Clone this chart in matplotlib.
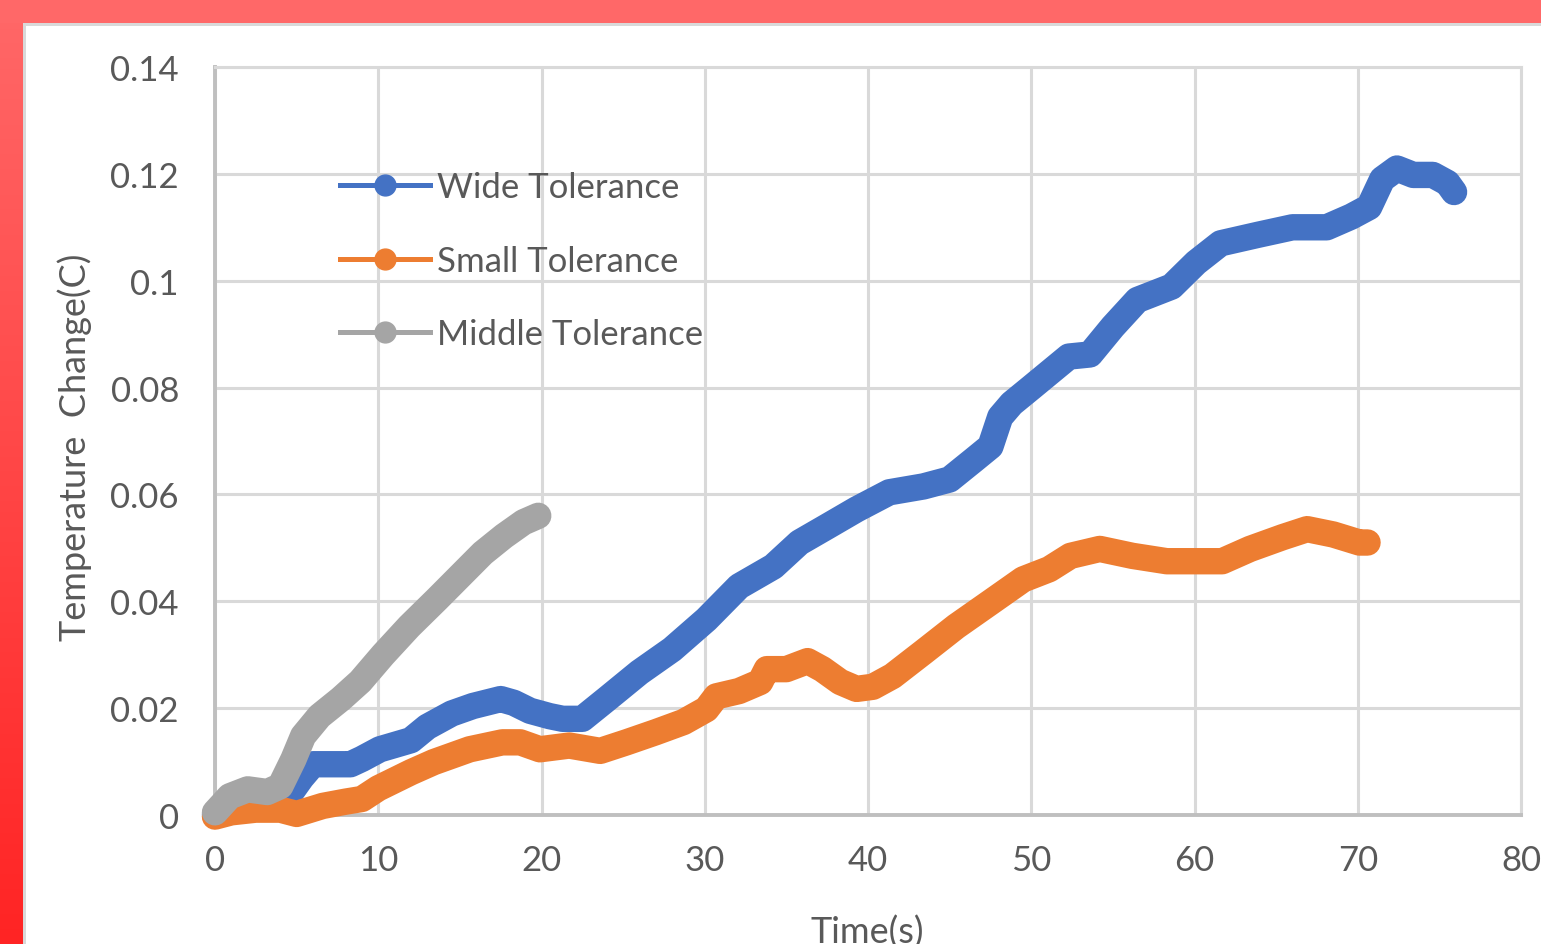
import numpy as np
import matplotlib
matplotlib.use('Agg')
import matplotlib.pyplot as plt
from matplotlib.lines import Line2D
from matplotlib.patches import Rectangle

plt.rcParams['font.family'] = ['Lato', 'DejaVu Sans']

# 数据：近似值
series_names = ['Wide Tolerance', 'Small Tolerance', 'Middle Tolerance']

wide_t = [0, 1, 2, 3, 4, 4.6, 5.3, 6, 7, 8.3, 9, 10.1, 12, 13, 14.5, 15.8, 17.5,
          18.3, 19.3, 20.5, 21.3, 22.5, 24, 26, 28, 30.1, 32.1, 34.2, 35.8, 37.5,
          39.3, 41.3, 43.4, 45, 46.5, 47.5, 48.1, 48.8, 50, 52.3, 53.6, 55, 56.5,
          58.6, 60.1, 61.6, 63.9, 66, 68.1, 69.6, 70.7, 71.5, 72.4, 73.4, 74.6,
          75.5, 75.9]
wide_y = [0, 0.0015, 0.0025, 0.003, 0.003, 0.004, 0.007, 0.0095, 0.0095, 0.0095,
          0.0105, 0.0123, 0.014, 0.0165, 0.019, 0.0204, 0.0217, 0.021, 0.0195,
          0.0185, 0.018, 0.018, 0.0217, 0.0267, 0.031, 0.0366, 0.0428, 0.0465,
          0.051, 0.054, 0.0572, 0.0604, 0.0615, 0.0628, 0.0665, 0.069, 0.0745,
          0.077, 0.080, 0.0858, 0.0862, 0.0914, 0.0964, 0.0989, 0.1034, 0.107,
          0.1086, 0.110, 0.110, 0.112, 0.1138, 0.119, 0.121, 0.1198, 0.1198,
          0.1183, 0.1166]

small_t = [0, 1, 2.5, 4, 5, 6.6, 8, 9, 10, 12, 13.4, 15.6, 17.6, 18.7, 19.9, 21.7,
           23.6, 25.2, 27, 28.7, 30.1, 30.7, 32.1, 33.4, 33.8, 35, 36.3, 37.2,
           38.3, 39.3, 40.3, 41.5, 43.4, 45.4, 47.5, 49.5, 51.1, 52.4, 54.2, 56.2,
           58.3, 60.1, 61.7, 63.4, 65.4, 66.9, 68.5, 70.1, 70.6]
small_y = [-0.0003, 0.0005, 0.001, 0.001, 0.0002, 0.0017, 0.0025, 0.003, 0.005,
           0.008, 0.0099, 0.0123, 0.0136, 0.0136, 0.0123, 0.013, 0.012, 0.0136,
           0.0155, 0.0174, 0.0198, 0.0222, 0.0232, 0.0249, 0.0273, 0.0273, 0.0288,
           0.0273, 0.0249, 0.0236, 0.024, 0.026, 0.0305, 0.0353, 0.0398, 0.0441,
           0.046, 0.0485, 0.0498, 0.0485, 0.0475, 0.0475, 0.0475, 0.0498, 0.052,
           0.0535, 0.0525, 0.051, 0.051]

middle_t = [0, 0.9, 2, 3.2, 4, 4.8, 5.4, 6.4, 7.7, 8.9, 10.3, 11.9, 13.6, 15, 16.4,
            17.7, 18.9, 19.8]
middle_y = [0.0005, 0.0035, 0.0048, 0.0043, 0.0054, 0.0104, 0.0148, 0.0185,
            0.0217, 0.025, 0.030, 0.0353, 0.0404, 0.0447, 0.049, 0.0522, 0.0548,
            0.056]

x_ticks = [0, 10, 20, 30, 40, 50, 60, 70, 80]
y_ticks = [0, 0.02, 0.04, 0.06, 0.08, 0.1, 0.12, 0.14]
y_tick_labels = ['0', '0.02', '0.04', '0.06', '0.08', '0.1', '0.12', '0.14']

colors = ['#4472C4', '#ED7D31', '#A5A5A5']
GRID = '#D9D9D9'
SPINE = '#BFBFBF'
TEXT = '#595959'

W, H = 1541, 945
fig = plt.figure(figsize=(W / 100, H / 100), dpi=100)
fig.patch.set_facecolor('white')

# 红色边框（顶部 + 左侧渐变）
grad_ax = fig.add_axes([0, 0, 23 / W, 1])
grad = np.linspace(0, 1, 256).reshape(-1, 1)
top_c = np.array([255, 104, 104]) / 255
bot_c = np.array([255, 36, 36]) / 255
img = top_c[None, None, :] * (1 - grad[..., None]) + bot_c[None, None, :] * grad[..., None]
grad_ax.imshow(img, aspect='auto', extent=[0, 1, 0, 1])
grad_ax.axis('off')
fig.patches.append(Rectangle((0, 1 - 24 / H), 1, 24 / H, transform=fig.transFigure,
                             facecolor='#FF6868', edgecolor='none', zorder=5))
fig.patches.append(Rectangle((23 / W, 0), 3 / W, 1 - 24 / H, transform=fig.transFigure,
                             facecolor=GRID, edgecolor='none', zorder=5))
fig.patches.append(Rectangle((23 / W, 1 - 27 / H), 1, 3 / H, transform=fig.transFigure,
                             facecolor=GRID, edgecolor='none', zorder=5))

ax = fig.add_axes([215 / W, 1 - 816 / H, (1521 - 215) / W, (816 - 68) / H])
ax.set_xlim(0, 80)
ax.set_ylim(0, 0.14)

for (t, y), c in zip([(wide_t, wide_y), (small_t, small_y), (middle_t, middle_y)], colors):
    ax.plot(t, y, color=c, lw=19, solid_capstyle='round', solid_joinstyle='round',
            clip_on=False, zorder=3)

ax.set_xticks(x_ticks)
ax.set_yticks(y_ticks)
ax.set_yticklabels(y_tick_labels)
ax.tick_params(length=0, labelsize=25, labelcolor=TEXT)
ax.tick_params(axis='y', pad=26)
ax.tick_params(axis='x', pad=21)
ax.grid(True, color=GRID, lw=2.2)
ax.set_axisbelow(True)
for side in ['left', 'bottom']:
    ax.spines[side].set_color(SPINE)
    ax.spines[side].set_linewidth(2.8)
for side in ['top', 'right']:
    ax.spines[side].set_color(GRID)
    ax.spines[side].set_linewidth(2.2)

# 图例
handles = [Line2D([], [], color=c, lw=3.6, marker='o', ms=15) for c in colors]
ax.legend(handles, series_names, loc='upper left',
          bbox_to_anchor=(340 / W, 1 - 172 / H), bbox_transform=fig.transFigure,
          frameon=False, fontsize=25, labelcolor=TEXT, handlelength=2.6,
          handletextpad=0.2, labelspacing=1.2, borderpad=0, borderaxespad=0)

fig.text(867 / W, 1 - 916 / H, 'Time(s)', ha='center', va='top', fontsize=26, color=TEXT)
fig.text(75 / W, 1 - 447 / H, 'Temperature  Change(C)', ha='center', va='center',
         rotation=90, fontsize=26, color=TEXT)

fig.savefig('out.png', dpi=100)
